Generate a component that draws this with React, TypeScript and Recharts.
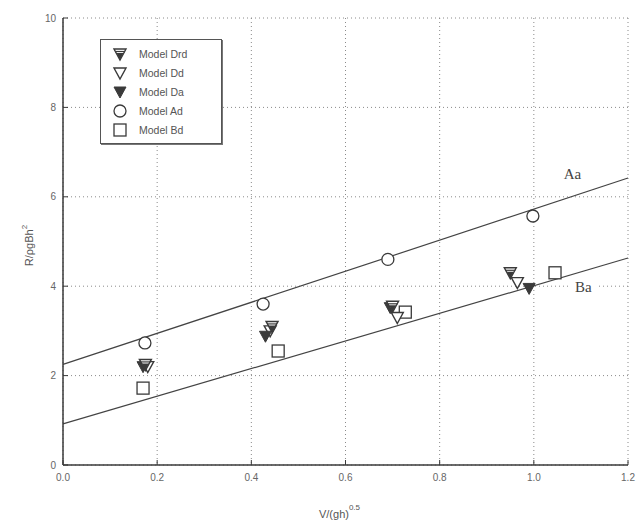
import {
  CartesianGrid,
  ComposedChart,
  ReferenceDot,
  ReferenceLine,
  Scatter,
  XAxis,
  YAxis,
} from "recharts";

const xTicks = [0, 0.2, 0.4, 0.6, 0.8, 1.0, 1.2];
const yTicks = [0, 2, 4, 6, 8, 10];

const drdData = [
  { x: 0.175, y: 2.25 },
  { x: 0.444, y: 3.1 },
  { x: 0.7, y: 3.55 },
  { x: 0.95, y: 4.3 },
];
const ddData = [
  { x: 0.18, y: 2.2 },
  { x: 0.44, y: 3.0 },
  { x: 0.71, y: 3.3 },
  { x: 0.965, y: 4.08 },
];
const daData = [
  { x: 0.17, y: 2.2 },
  { x: 0.43, y: 2.88 },
  { x: 0.695, y: 3.52 },
  { x: 0.99, y: 3.95 },
];
const adData = [
  { x: 0.174, y: 2.73 },
  { x: 0.425, y: 3.6 },
  { x: 0.69, y: 4.6 },
  { x: 0.998, y: 5.57 },
];
const bdData = [
  { x: 0.17, y: 1.72 },
  { x: 0.457, y: 2.55 },
  { x: 0.727, y: 3.42 },
  { x: 1.045, y: 4.3 },
];

// fitted lines (end points)
const lineAa = [
  { x: 0, y: 2.25 },
  { x: 1.2, y: 6.42 },
];
const lineBa = [
  { x: 0, y: 0.92 },
  { x: 1.2, y: 4.63 },
];
const lineLabels = [
  { name: "Aa", x: 1.082, y: 6.5 },
  { name: "Ba", x: 1.105, y: 3.98 },
];

const legendItems = ["Model Drd", "Model Dd", "Model Da", "Model Ad", "Model Bd"];

const INK = "#3a3a3a";
const GRID = "#8a8a8a";
const tickFont = { fontSize: 10, fill: "#666", fontFamily: "Liberation Sans, Arial, sans-serif" };

function DrdShape({ cx, cy }: any) {
  return (
    <g>
      <path d={`M${cx - 6},${cy - 5} L${cx + 6},${cy - 5} L${cx},${cy + 6} Z`} fill="#fff" stroke={INK} strokeWidth={1.4} />
      <path d={`M${cx - 3.5},${cy - 1} L${cx + 3.5},${cy - 1} L${cx},${cy + 6} Z`} fill={INK} />
      <line x1={cx - 5} x2={cx + 5} y1={cy - 2.5} y2={cy - 2.5} stroke={INK} strokeWidth={1.2} />
    </g>
  );
}

function DdShape({ cx, cy }: any) {
  return <path d={`M${cx - 6},${cy - 5} L${cx + 6},${cy - 5} L${cx},${cy + 6} Z`} fill="#fff" stroke={INK} strokeWidth={1.4} />;
}

function DaShape({ cx, cy }: any) {
  return <path d={`M${cx - 6},${cy - 5} L${cx + 6},${cy - 5} L${cx},${cy + 6} Z`} fill={INK} stroke={INK} strokeWidth={1} />;
}

function AdShape({ cx, cy }: any) {
  return <circle cx={cx} cy={cy} r={6} fill="#fff" stroke={INK} strokeWidth={1.3} />;
}

function BdShape({ cx, cy }: any) {
  return <rect x={cx - 6} y={cy - 6} width={12} height={12} fill="#fff" stroke={INK} strokeWidth={1.3} />;
}

const shapes = [DrdShape, DdShape, DaShape, AdShape, BdShape];

function LegendBox() {
  return (
    <div
      style={{
        position: "absolute",
        left: 100,
        top: 39,
        border: "1.5px solid #555",
        boxShadow: "1px 1px 0 #777",
        background: "#fff",
        padding: "4px 8px 4px 8px",
        width: 104,
        fontFamily: "Liberation Sans, Arial, sans-serif",
        fontSize: 10.5,
        color: "#555",
      }}
    >
      {legendItems.map((label, i) => {
        const Shape = shapes[i];
        return (
          <div key={label} style={{ display: "flex", alignItems: "center", height: 19 }}>
            <svg width={22} height={16} style={{ marginRight: 8 }}>
              <Shape cx={11} cy={8} />
            </svg>
            <span>{label}</span>
          </div>
        );
      })}
    </div>
  );
}

function LineLabel({ viewBox, value }: any) {
  const cx = viewBox.x + viewBox.width / 2;
  const cy = viewBox.y + viewBox.height / 2;
  return (
    <g>
      <rect x={cx - 13} y={cy - 8} width={26} height={16} fill="#fff" />
      <text x={cx} y={cy + 5} textAnchor="middle" fontFamily="Liberation Serif, Times New Roman, serif" fontSize={15} fill="#444">
        {value}
      </text>
    </g>
  );
}

function YLabel({ viewBox }: any) {
  const x = 33;
  const y = viewBox.y + viewBox.height / 2 + 4;
  return (
    <text
      x={x}
      y={y}
      transform={`rotate(-90 ${x} ${y})`}
      textAnchor="middle"
      fontFamily="Liberation Sans, Arial, sans-serif"
      fontSize={11}
      fill="#555"
    >
      R/ρgBh<tspan dy={-6} fontSize={8}>2</tspan>
    </text>
  );
}

function XLabel({ viewBox }: any) {
  const x = viewBox.x + viewBox.width / 2 - 6;
  const y = 518;
  return (
    <text x={x} y={y} textAnchor="middle" fontFamily="Liberation Sans, Arial, sans-serif" fontSize={11} fill="#555">
      V/(gh)<tspan dy={-8} fontSize={8}>0.5</tspan>
    </text>
  );
}

export default function App() {
  return (
    <div style={{ position: "absolute", left: 0, top: 0, width: 644, height: 527, background: "#fff" }}>
      <ComposedChart width={644} height={527} margin={{ top: 18, right: 16, bottom: 0, left: 0 }}>
        <CartesianGrid stroke={GRID} strokeDasharray="1 3" horizontalValues={yTicks} verticalValues={xTicks} />
        <XAxis
          type="number"
          dataKey="x"
          domain={[0, 1.2]}
          ticks={xTicks}
          tickFormatter={(v: number) => v.toFixed(1)}
          height={62}
          tick={tickFont}
          tickSize={-5}
          tickMargin={14}
          stroke={INK}
          axisLine={{ stroke: INK, strokeWidth: 1.5 }}
          label={<XLabel />}
        />
        <XAxis
          xAxisId="top"
          orientation="top"
          type="number"
          dataKey="x"
          domain={[0, 1.2]}
          ticks={xTicks}
          height={0}
          tick={false}
          tickSize={-5}
          axisLine={{ stroke: INK, strokeWidth: 1.5 }}
          stroke={INK}
        />
        <YAxis
          type="number"
          dataKey="y"
          domain={[0, 10]}
          ticks={yTicks}
          width={63}
          tick={tickFont}
          tickSize={-5}
          tickMargin={12}
          axisLine={{ stroke: INK, strokeWidth: 1.5 }}
          stroke={INK}
          label={<YLabel />}
        />
        <YAxis
          yAxisId="right"
          orientation="right"
          type="number"
          dataKey="y"
          domain={[0, 10]}
          ticks={yTicks}
          width={0}
          tick={false}
          tickSize={-5}
          axisLine={{ stroke: INK, strokeWidth: 1.5 }}
          stroke={INK}
        />
        <ReferenceLine segment={lineAa} stroke="#444" strokeWidth={1.2} ifOverflow="visible" />
        <ReferenceLine segment={lineBa} stroke="#444" strokeWidth={1.2} ifOverflow="visible" />
        {lineLabels.map((l) => (
          <ReferenceDot key={l.name} x={l.x} y={l.y} r={0} fill="none" stroke="none" label={<LineLabel value={l.name} />} />
        ))}
        <Scatter data={bdData} shape={<BdShape />} isAnimationActive={false} />
        <Scatter data={adData} shape={<AdShape />} isAnimationActive={false} />
        <Scatter data={ddData} shape={<DdShape />} isAnimationActive={false} />
        <Scatter data={daData} shape={<DaShape />} isAnimationActive={false} />
        <Scatter data={drdData} shape={<DrdShape />} isAnimationActive={false} />
      </ComposedChart>
      <LegendBox />
    </div>
  );
}
